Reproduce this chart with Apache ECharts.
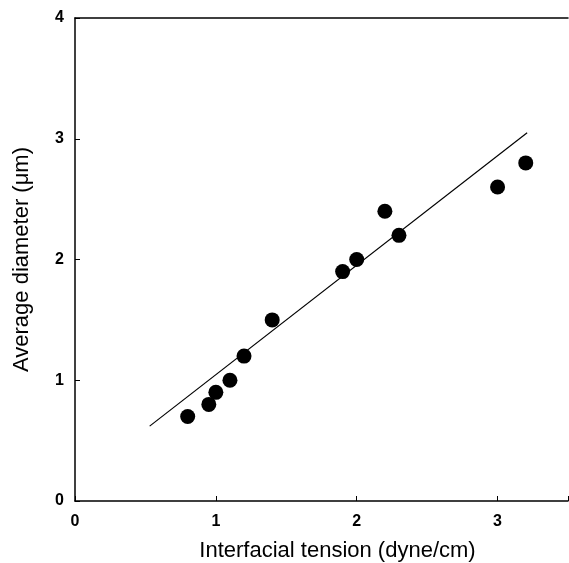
<!DOCTYPE html>
<html>
<head>
<meta charset="utf-8">
<script src="https://cdn.jsdelivr.net/npm/echarts@6/dist/echarts.min.js"></script>
<style>
  html, body { margin: 0; padding: 0; background: #fff; }
  #chart { width: 569px; height: 563px; }
</style>
</head>
<body>
<div id="chart"></div>
<script>
// measured points (interfacial tension, average diameter)
const tension = [0.8, 0.95, 1.0, 1.1, 1.2, 1.4, 1.9, 2.0, 2.2, 2.3, 3.0, 3.2];
const diameter = [0.7, 0.8, 0.9, 1.0, 1.2, 1.5, 1.9, 2.0, 2.4, 2.2, 2.6, 2.8];
// fitted line end points
const fitX = [0.53, 3.21];
const fitY = [0.62, 3.05];

const chart = echarts.init(document.getElementById('chart'), null, { renderer: 'canvas' });

const tickLabel = { color: '#000', fontFamily: 'Liberation Sans', fontWeight: 'bold', fontSize: 16 };
const nameStyle = { color: '#000', fontFamily: 'Liberation Sans', fontSize: 22 };

chart.setOption({
  animation: false,
  grid: { left: 75, right: 1, top: 18, bottom: 62, outerBoundsMode: 'none', containLabel: false },
  xAxis: [
    {
      type: 'value', min: 0, max: 3.5, interval: 1,
      name: 'Interfacial tension (dyne/cm)',
      nameLocation: 'middle', nameGap: 39,
      nameTextStyle: Object.assign({ padding: [0, 0, 0, 32] }, nameStyle),
      axisLine: { lineStyle: { color: '#000', width: 1.5 } },
      axisTick: { inside: true, length: 5, lineStyle: { color: '#000' } },
      axisLabel: Object.assign({ margin: 13, formatter: v => (v % 1 === 0 ? v : '') }, tickLabel),
      splitLine: { show: false }
    },
    {
      type: 'value', min: 0, max: 3.5, position: 'top',
      axisLine: { show: true, lineStyle: { color: '#000', width: 1.5 } },
      axisTick: { show: false }, axisLabel: { show: false }, splitLine: { show: false }
    }
  ],
  yAxis: {
    type: 'value', min: 0, max: 4, interval: 1,
    name: 'Average diameter (\u03bcm)',
    nameLocation: 'middle', nameGap: 42,
    nameTextStyle: nameStyle,
    axisLine: { show: true, lineStyle: { color: '#000', width: 1.5 } },
    axisTick: { show: true, inside: true, length: 5, lineStyle: { color: '#000' } },
    axisLabel: Object.assign({ margin: 11 }, tickLabel),
    splitLine: { show: false }
  },
  series: [
    {
      type: 'line',
      data: fitX.map((x, i) => [x, fitY[i]]),
      showSymbol: false,
      lineStyle: { color: '#000', width: 1.2 },
      z: 1
    },
    {
      type: 'scatter',
      data: tension.map((x, i) => [x, diameter[i]]),
      symbol: 'circle',
      symbolSize: 15,
      itemStyle: { color: '#000', opacity: 1 },
      z: 2
    }
  ]
});
</script>
</body>
</html>
